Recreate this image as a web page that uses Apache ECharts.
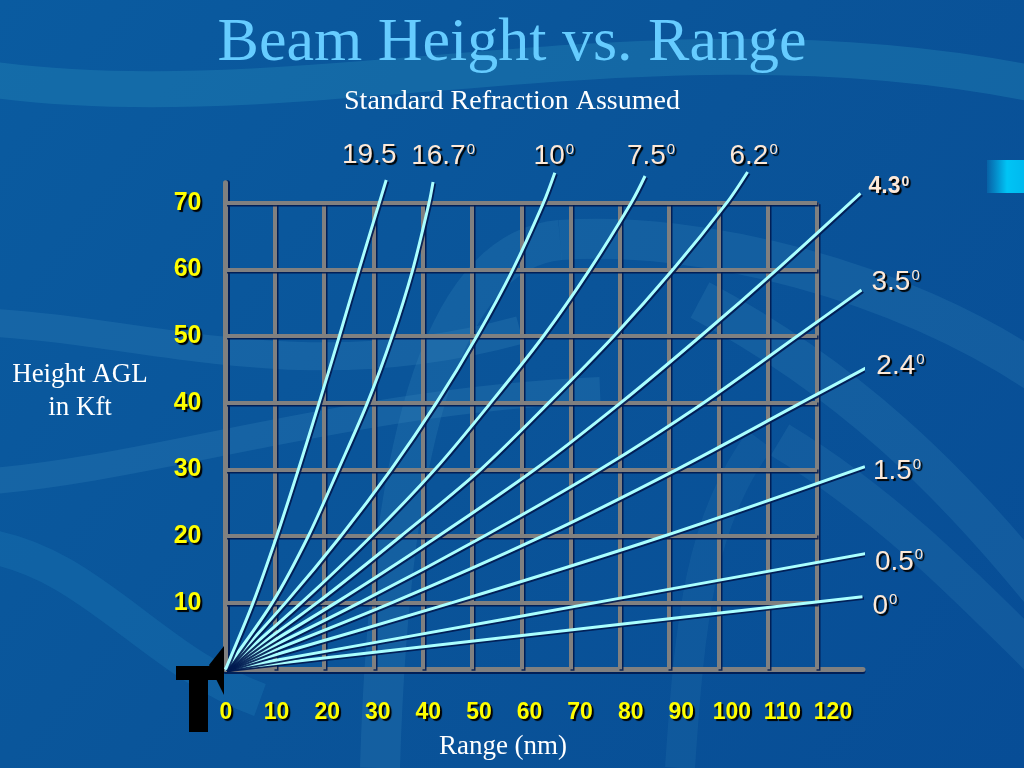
<!DOCTYPE html>
<html>
<head>
<meta charset="utf-8">
<script src="https://cdn.jsdelivr.net/npm/echarts@6/dist/echarts.min.js"></script>
<style>
html,body{margin:0;padding:0;background:#0a5399;}
#chart{width:1024px;height:768px;}
</style>
</head>
<body>
<div id="chart"></div>
<script>
// ---------- data ----------
const xTickValues = [0, 10, 20, 30, 40, 50, 60, 70, 80, 90, 100, 110, 120];
const yTickValues = [10, 20, 30, 40, 50, 60, 70];
const angleLabels = ['0', '0.5', '1.5', '2.4', '3.5', '4.3', '6.2', '7.5', '10', '16.7', '19.5'];
const angleHasDegree = [true, true, true, true, true, true, true, true, true, true, false];

// beam paths: [range nm, height kft]
const beam0   = [[0, 0], [129.2, 10.9]];
const beam05  = [[0, 0], [55.7, 7.4], [130.1, 17.4]];
const beam15  = [[0, 0], [46, 10], [89, 20], [129.7, 30.4]];
const beam24  = [[0, 0], [33.8, 10], [64.4, 20], [91.6, 30], [116.8, 40], [130.4, 45.4]];
const beam35  = [[0, 0], [27.2, 10], [52.5, 20], [76, 30], [97, 40], [116, 50], [129, 56.9]];
const beam43  = [[0, 0], [22.4, 10], [43.2, 20], [62.8, 30], [80.2, 40], [96.4, 50], [111.9, 60], [128.8, 71.4]];
const beam62  = [[0, 0], [18.6, 10], [35.6, 20], [51.8, 30], [65.6, 40], [78.8, 50], [90.8, 60], [101.7, 70], [105.9, 74.6]];
const beam75  = [[0, 0], [15.4, 10], [29.6, 20], [42.5, 30], [53.8, 40], [64.5, 50], [73.9, 60], [82.3, 70], [85.1, 74]];
const beam10  = [[0, 0], [12.2, 10], [23.4, 20], [33.6, 30], [42.8, 40], [51, 50], [58.3, 60], [64.5, 70], [66.8, 74.5]];
const beam167 = [[0, 0], [9.5, 10], [16.8, 20], [22.9, 30], [28.8, 40], [33.8, 50], [38, 60], [41.3, 70], [42.1, 73.1]];
const beam195 = [[0, 0], [5.6, 10], [10.4, 20], [14.8, 30], [19, 40], [23.1, 50], [27.1, 60], [32.6, 73.4]];

const beams = [beam0, beam05, beam15, beam24, beam35, beam43, beam62, beam75, beam10, beam167, beam195];

// ---------- styles (positions of angle labels relative to line ends, px) ----------
const labelPlacement = [
  {align: 'left', offset: [10, 10]},
  {align: 'left', offset: [8, 9]},
  {align: 'left', offset: [8, 5]},
  {align: 'left', offset: [8, 0]},
  {align: 'left', offset: [10, -7]},
  {align: 'left', offset: [8, -6], bold: true},
  {align: 'center', offset: [6, -15]},
  {align: 'center', offset: [6, -19]},
  {align: 'center', offset: [-1, -16]},
  {align: 'center', offset: [10, -25]},
  {align: 'center', offset: [-17, -24]}
];

const X0 = 225.5, PX_PER_X = 4.93;      // px per nm
const Y0 = 669.3, PX_PER_Y = 6.666;     // px per kft
const X_MAX = 129.3, Y_MAX = 73;

const shadow = {textShadowColor: '#000000', textShadowOffsetX: 2, textShadowOffsetY: 2, textShadowBlur: 1};
const labelColor = '#fde9d8';

const chart = echarts.init(document.getElementById('chart'));

const gridLines = [];
xTickValues.filter(v => v > 0).forEach(v => gridLines.push([{coord: [v, 0]}, {coord: [v, 70]}]));
yTickValues.forEach(v => gridLines.push([{coord: [0, v]}, {coord: [120, v]}]));

const beamSeries = beams.map((d, i) => ({
  type: 'line',
  name: angleLabels[i],
  xAxisIndex: 0, yAxisIndex: 0,
  data: d,
  symbol: 'none',
  showSymbol: false,
  smooth: 0.3,
  clip: false,
  silent: true,
  z: 5,
  lineStyle: {color: '#aaffff', width: 3, shadowColor: 'rgba(0,25,80,0.9)', shadowOffsetX: 1.5, shadowOffsetY: 1.5}
}));

const labelData = beams.map((d, i) => {
  const p = labelPlacement[i];
  const main = p.bold ? 'b' : 'a';
  const sup = p.bold ? 'sb' : 's';
  return {
    value: d[d.length - 1],
    label: {
      align: p.align,
      verticalAlign: 'middle',
      offset: p.offset,
      formatter: '{' + main + '|' + angleLabels[i] + '}' + (angleHasDegree[i] ? '{' + sup + '|0}' : '')
    }
  };
});

const tickLabelStyle = Object.assign({color: '#ffff00', fontFamily: 'Liberation Sans', fontWeight: 'bold'}, shadow);

const option = {
  animation: false,
  backgroundColor: new echarts.graphic.LinearGradient(0, 0, 1, 1, [
    {offset: 0, color: '#0a5ba0'},
    {offset: 0.5, color: '#0a5499'},
    {offset: 1, color: '#074d96'}
  ]),
  title: [
    {text: 'Beam Height vs. Range', left: 'center', top: 13, padding: 0,
     textStyle: {fontFamily: 'Liberation Serif', fontSize: 62, fontWeight: 'normal', color: '#66ccff', lineHeight: 62}},
    {text: 'Standard Refraction Assumed', left: 'center', top: 88, padding: 0,
     textStyle: {fontFamily: 'Liberation Serif', fontSize: 28, fontWeight: 'normal', color: '#ffffff', lineHeight: 28}},
    {text: 'Height AGL\nin Kft', left: 80, textAlign: 'center', top: 358, padding: 0,
     textStyle: {fontFamily: 'Liberation Serif', fontSize: 27, fontWeight: 'normal', color: '#ffffff', lineHeight: 33}},
    {text: 'Range (nm)', left: 503, textAlign: 'center', top: 733, padding: 0,
     textStyle: {fontFamily: 'Liberation Serif', fontSize: 27, fontWeight: 'normal', color: '#ffffff', lineHeight: 28}}
  ],
  graphic: [
    {type: 'bezierCurve', z: 0, silent: true,
     shape: {x1: -20, y1: 78, cpx1: 300, cpy1: 125, cpx2: 650, cpy2: 5, x2: 1040, y2: 85},
     style: {stroke: 'rgba(40,140,185,0.35)', lineWidth: 36, fill: null}},
    {type: 'bezierCurve', z: 0, silent: true,
     shape: {x1: -20, y1: 322, cpx1: 150, cpy1: 330, cpx2: 300, cpy2: 390, x2: 520, y2: 330},
     style: {stroke: 'rgba(60,140,190,0.25)', lineWidth: 28, fill: null}},
    {type: 'bezierCurve', z: 0, silent: true,
     shape: {x1: -20, y1: 482, cpx1: 150, cpy1: 470, cpx2: 350, cpy2: 400, x2: 600, y2: 390},
     style: {stroke: 'rgba(60,140,190,0.25)', lineWidth: 26, fill: null}},
    {type: 'bezierCurve', z: 0, silent: true,
     shape: {x1: -20, y1: 545, cpx1: 90, cpy1: 560, cpx2: 150, cpy2: 660, x2: 260, y2: 700},
     style: {stroke: 'rgba(30,120,180,0.35)', lineWidth: 34, fill: null}},
    {type: 'bezierCurve', z: 0, silent: true,
     shape: {x1: 380, y1: 768, cpx1: 390, cpy1: 420, cpx2: 450, cpy2: 250, x2: 560, y2: 240},
     style: {stroke: 'rgba(60,140,190,0.22)', lineWidth: 40, fill: null}},
    {type: 'bezierCurve', z: 0, silent: true,
     shape: {x1: 560, y1: 240, cpx1: 700, cpy1: 230, cpx2: 900, cpy2: 280, x2: 1040, y2: 375},
     style: {stroke: 'rgba(60,140,190,0.22)', lineWidth: 40, fill: null}},
    {type: 'bezierCurve', z: 0, silent: true,
     shape: {x1: 700, y1: 300, cpx1: 850, cpy1: 380, cpx2: 950, cpy2: 480, x2: 1040, y2: 590},
     style: {stroke: 'rgba(60,140,190,0.22)', lineWidth: 40, fill: null}},
    {type: 'bezierCurve', z: 0, silent: true,
     shape: {x1: 780, y1: 440, cpx1: 880, cpy1: 500, cpx2: 960, cpy2: 580, x2: 1040, y2: 660},
     style: {stroke: 'rgba(60,140,190,0.2)', lineWidth: 36, fill: null}},
    {type: 'bezierCurve', z: 0, silent: true,
     shape: {x1: 680, y1: 768, cpx1: 690, cpy1: 620, cpx2: 700, cpy2: 520, x2: 760, y2: 440},
     style: {stroke: 'rgba(60,140,190,0.15)', lineWidth: 30, fill: null}},
    {type: 'rect', z: 0, silent: true,
     shape: {x: 987, y: 160, width: 40, height: 33},
     style: {fill: new echarts.graphic.LinearGradient(0, 0, 1, 0, [
       {offset: 0, color: 'rgba(0,190,245,0.15)'},
       {offset: 0.5, color: '#00c4f5'},
       {offset: 1, color: '#00b8ee'}])}},
    {type: 'polygon', z: 100, silent: true,
     shape: {points: [[176, 666], [222, 666], [222, 680], [208, 680], [208, 732], [189, 732], [189, 680], [176, 680]]},
     style: {fill: '#000000'}},
    {type: 'polygon', z: 100, silent: true,
     shape: {points: [[209, 665], [224, 646], [224, 695]]},
     style: {fill: '#000000'}}
  ],
  grid: [
    {left: X0, top: Y0 - Y_MAX * PX_PER_Y, width: X_MAX * PX_PER_X, height: Y_MAX * PX_PER_Y, containLabel: false},
    {left: 226, top: Y0 - Y_MAX * PX_PER_Y, width: 607, height: Y_MAX * PX_PER_Y, containLabel: false}
  ],
  xAxis: [
    {type: 'value', gridIndex: 0, min: 0, max: X_MAX, interval: 10,
     axisLine: {show: true, lineStyle: {color: '#808080', width: 5, shadowColor: 'rgba(0,25,80,0.9)', shadowOffsetY: 2}},
     axisTick: {show: false}, axisLabel: {show: false}, splitLine: {show: false}},
    {type: 'value', gridIndex: 1, min: 0, max: 120, interval: 10,
     axisLine: {show: false}, axisTick: {show: false}, splitLine: {show: false},
     axisLabel: Object.assign({show: true, margin: 32, fontSize: 23,
       formatter: v => (xTickValues.indexOf(v) >= 0 ? String(v) : '')}, tickLabelStyle)}
  ],
  yAxis: [
    {type: 'value', gridIndex: 0, min: 0, max: Y_MAX, interval: 10,
     axisLine: {show: true, lineStyle: {color: '#808080', width: 5, shadowColor: 'rgba(0,25,80,0.9)', shadowOffsetX: 2}},
     axisTick: {show: false}, splitLine: {show: false},
     axisLabel: Object.assign({show: true, margin: 24, fontSize: 25,
       formatter: v => (yTickValues.indexOf(v) >= 0 ? String(v) : '')}, tickLabelStyle)},
    {type: 'value', gridIndex: 1, min: 0, max: Y_MAX, show: false}
  ],
  series: [
    {type: 'line', xAxisIndex: 0, yAxisIndex: 0, data: [[0, 0]], symbol: 'none', silent: true, z: 1,
     lineStyle: {width: 0},
     markLine: {silent: true, symbol: ['none', 'none'], label: {show: false}, animation: false,
       lineStyle: {color: '#808080', width: 4, type: 'solid', shadowColor: 'rgba(0,25,80,0.9)', shadowOffsetX: 1.5, shadowOffsetY: 1.5},
       emphasis: {disabled: true},
       data: gridLines}}
  ].concat(beamSeries).concat([
    {type: 'scatter', xAxisIndex: 0, yAxisIndex: 0, data: labelData, symbolSize: 1, clip: false, silent: true, z: 8,
     itemStyle: {color: 'rgba(0,0,0,0)'},
     label: {show: true, position: 'top', distance: 0, opacity: 1, color: labelColor,
       rich: {
         a: Object.assign({fontFamily: 'Liberation Sans', fontSize: 28, color: labelColor, lineHeight: 30}, shadow),
         s: Object.assign({fontFamily: 'Liberation Sans', fontSize: 15, color: labelColor, lineHeight: 16, verticalAlign: 'top', padding: [1, 0, 0, 1]}, shadow),
         b: Object.assign({fontFamily: 'Liberation Sans', fontSize: 23, fontWeight: 'bold', color: labelColor, lineHeight: 26}, shadow),
         sb: Object.assign({fontFamily: 'Liberation Sans', fontSize: 14, fontWeight: 'bold', color: labelColor, lineHeight: 15, verticalAlign: 'top', padding: [1, 0, 0, 1]}, shadow)
       }}}
  ])
};
chart.setOption(option);
</script>
</body>
</html>
